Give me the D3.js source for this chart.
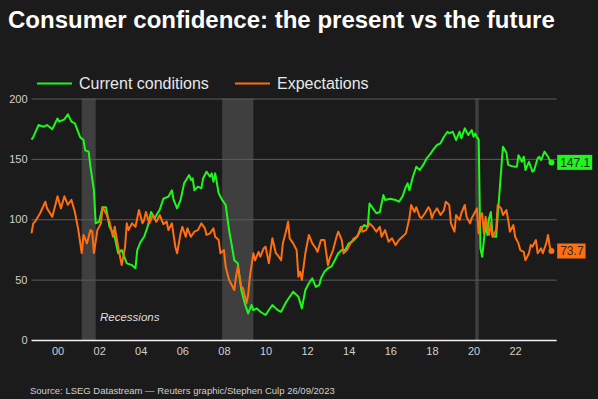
<!DOCTYPE html>
<html lang="en">
<head>
<meta charset="utf-8">
<title>Consumer confidence: the present vs the future</title>
<script src="https://d3js.org/d3.v7.min.js"></script>
<style>
  html, body { margin: 0; padding: 0; background: #1b1b1b; }
  svg { display: block; font-family: "Liberation Sans", Arial, sans-serif; }
</style>
</head>
<body>
<script>
// monthly readings (sparse)
const currentMonths = [
  "1998-09","1998-10","1999-01","1999-04","1999-06","1999-09","1999-12","2000-01","2000-04","2000-06",
  "2000-08","2000-10","2001-01","2001-03","2001-04","2001-06","2001-07","2001-09","2001-10","2001-12",
  "2002-02","2002-04","2002-06","2002-09","2002-11","2003-01","2003-04","2003-07","2003-09","2003-10",
  "2003-12","2004-02","2004-04","2004-06","2004-08","2004-11","2005-01","2005-04","2005-06","2005-07",
  "2005-09","2005-11","2006-01","2006-04","2006-05","2006-06","2006-07","2006-09","2006-11","2006-12",
  "2007-02","2007-04","2007-05","2007-06","2007-07","2007-09","2007-11","2008-01","2008-03","2008-05",
  "2008-06","2008-08","2008-10","2008-12","2009-02","2009-04","2009-05","2009-07","2009-09","2009-12",
  "2010-02","2010-04","2010-06","2010-07","2010-09","2010-12","2011-04","2011-07","2011-09","2011-11",
  "2012-01","2012-03","2012-05","2012-07","2012-08","2012-10","2012-12","2013-02","2013-04","2013-06",
  "2013-08","2013-10","2013-12","2014-02","2014-04","2014-06","2014-08","2014-09","2014-11","2014-12",
  "2015-02","2015-04","2015-06","2015-08","2015-09","2015-12","2016-03","2016-05","2016-07","2016-09",
  "2016-10","2016-11","2017-01","2017-03","2017-05","2017-07","2017-09","2017-11","2018-01","2018-03",
  "2018-05","2018-07","2018-09","2018-10","2018-12","2019-02","2019-04","2019-05","2019-07","2019-09",
  "2019-11","2019-12","2020-01","2020-02","2020-03","2020-04","2020-05","2020-07","2020-08","2020-09",
  "2020-10","2020-11","2021-01","2021-05","2021-07","2021-08","2021-10","2021-12","2022-01","2022-02",
  "2022-04","2022-05","2022-06","2022-08","2022-10","2022-11","2023-01","2023-02","2023-03","2023-05",
  "2023-07","2023-08","2023-09"
];
const currentValues = [
  166, 168, 178, 176.6, 178, 174.5, 183.5, 180.8, 182.7, 187,
  180.8, 179.4, 168, 165.6, 157, 156, 143.5, 124, 96.6, 98,
  110, 110, 94, 85.5, 71.8, 74.5, 63.5, 62, 59.4, 74.5,
  81.4, 85.5, 93.8, 106, 100.8, 108, 117, 118.7, 124, 116,
  109, 116, 129.7, 136.6, 132.5, 133.9, 124, 127, 125.6, 133.9,
  139.4, 135.2, 138, 131, 138, 121.5, 116, 111.8, 91, 74.5,
  66, 63.5, 41.4, 30.4, 22, 29, 24.8, 26.2, 23.4, 20.7,
  24.8, 29, 26.2, 24.8, 23.4, 31.7, 40, 35.9, 26.2, 41.4,
  47, 51, 44, 45.5, 51, 56.6, 59.4, 60.7, 66, 71.8,
  74.5, 74.5, 80, 81.4, 84.2, 88.3, 93.8, 95.2, 93.8, 113,
  109, 105, 106, 120, 116, 117, 116, 114.5, 118.7, 127,
  129.7, 124, 135.2, 143.5, 140.8, 145, 150.5, 154, 158, 161.5,
  162.9, 168.3, 172.5, 171.1, 172.5, 165.6, 172.5, 167, 175.3, 169.7,
  173.9, 168.3, 171, 168, 166, 76, 69, 96, 87, 101,
  106, 86, 85.5, 160, 155, 145, 144, 143.5, 143.5, 153,
  147.6, 151.8, 140.8, 147.6, 139.4, 140.8, 150.5, 151.8, 149, 156,
  151.8, 148.5, 147.1
];

const expectMonths = [
  "1998-09","1998-10","1998-11","1999-02","1999-05","1999-06","1999-09","1999-11","1999-12","2000-02",
  "2000-04","2000-06","2000-08","2000-10","2000-12","2001-02","2001-03","2001-05","2001-07","2001-08",
  "2001-09","2001-11","2002-01","2002-02","2002-04","2002-06","2002-08","2002-09","2002-11","2003-01",
  "2003-03","2003-04","2003-05","2003-07","2003-09","2003-11","2004-01","2004-02","2004-03","2004-05",
  "2004-07","2004-09","2004-11","2005-01","2005-03","2005-04","2005-06","2005-08","2005-09","2005-11",
  "2005-12","2006-02","2006-03","2006-05","2006-07","2006-09","2006-11","2007-01","2007-02","2007-04",
  "2007-06","2007-07","2007-09","2007-10","2007-12","2008-01","2008-03","2008-04","2008-06","2008-07",
  "2008-08","2008-10","2008-11","2009-01","2009-02","2009-03","2009-05","2009-06","2009-08","2009-09",
  "2009-11","2009-12","2010-02","2010-03","2010-04","2010-06","2010-07","2010-09","2010-10","2010-12",
  "2011-01","2011-02","2011-04","2011-06","2011-07","2011-08","2011-09","2011-11","2012-01","2012-03",
  "2012-05","2012-06","2012-08","2012-10","2012-12","2013-01","2013-03","2013-05","2013-06","2013-08",
  "2013-09","2013-11","2014-01","2014-03","2014-05","2014-07","2014-08","2014-10","2014-12","2015-02",
  "2015-04","2015-06","2015-07","2015-09","2015-11","2016-01","2016-03","2016-05","2016-07","2016-09",
  "2016-11","2016-12","2017-02","2017-03","2017-05","2017-06","2017-08","2017-10","2017-11","2017-12",
  "2018-01","2018-03","2018-05","2018-07","2018-08","2018-10","2018-11","2019-01","2019-02","2019-04",
  "2019-05","2019-07","2019-08","2019-10","2019-11","2019-12","2020-02","2020-03","2020-04","2020-05",
  "2020-06","2020-07","2020-09","2020-10","2020-11","2021-01","2021-02","2021-04","2021-05","2021-07",
  "2021-08","2021-09","2021-11","2021-12","2022-02","2022-03","2022-05","2022-06","2022-08","2022-09",
  "2022-10","2022-12","2023-01","2023-03","2023-04","2023-06","2023-07","2023-08","2023-09"
];
const expectValues = [
  88.3, 96.6, 98, 105, 114.5, 109, 102, 113, 119, 109,
  119, 112, 116, 106, 91, 72, 87, 80, 91, 90,
  72, 91, 96.6, 110, 105, 98, 85.5, 93.8, 77, 62,
  77, 96.6, 91, 96.6, 93.8, 107.6, 96.6, 99.4, 106, 96.6,
  103.5, 98, 103.5, 96, 98, 91, 96.6, 77, 71.8, 88.3,
  93.8, 85.5, 92.5, 85.5, 89.7, 91, 96.6, 92.5, 87, 88.3,
  92.5, 85.5, 82.8, 71.8, 74.5, 60.7, 49.7, 47, 41.4, 52.4,
  60.7, 44, 42.8, 30.4, 37.3, 52.4, 71.8, 66, 73, 69,
  76, 77.3, 63.5, 74.5, 84.2, 71.8, 70.4, 66, 80, 91,
  98, 84.2, 80, 74.5, 52.4, 56.6, 49.7, 71.8, 87, 80,
  76, 73, 82.8, 82.8, 62, 67.6, 74.5, 85.5, 89.7, 82.8,
  71.8, 74.5, 80, 84.2, 85.5, 93.8, 89.7, 91, 96.6, 93.8,
  89.7, 93.8, 85.5, 91, 81.4, 84.2, 78.6, 82.8, 85.5, 88.3,
  100.8, 111.8, 106, 110, 102, 100.8, 105, 110, 107.6, 100.8,
  105, 109, 103.5, 107.6, 114.5, 111.8, 96.6, 89.7, 103.5, 99.4,
  105, 111.8, 102, 96.6, 100.8, 103.5, 109, 88.3, 102, 105,
  88.3, 102, 87, 96.6, 85.5, 91, 111.8, 109, 103.5, 107.6,
  99.4, 89.7, 95.2, 85.5, 80, 74.5, 73, 66, 71.8, 78.6,
  77.3, 82.8, 71.8, 76, 71.8, 80, 87, 77.3, 73.7
];

// NBER recessions (first and last month)
const recessionStarts = ["2001-03", "2007-12", "2020-02"];
const recessionEnds = ["2001-11", "2009-06", "2020-04"];

const yTicks = [0, 50, 100, 150, 200];
const xTickYears = [2000, 2002, 2004, 2006, 2008, 2010, 2012, 2014, 2016, 2018, 2020, 2022];

const seriesNames = ["Current conditions", "Expectations"];
const seriesColors = ["#1ef71a", "#ff6f10"];

const width = 598, height = 399;
const parseMonth = d3.timeParse("%Y-%m");

const svg = d3.select("body").append("svg")
    .attr("width", width)
    .attr("height", height);

svg.append("rect")
    .attr("width", width).attr("height", height)
    .attr("fill", "#1b1b1b");

const x = d3.scaleTime()
    .domain([new Date(1998, 9, 1), new Date(2024, 0, 1)])
    .range([31.5, 556.7]);

const y = d3.scaleLinear()
    .domain([0, 200])
    .range([340, 98.5]);

// title
svg.append("text")
    .attr("x", 8).attr("y", 28)
    .attr("fill", "#ffffff")
    .attr("font-size", 24)
    .attr("font-weight", "bold")
    .text("Consumer confidence: the present vs the future");

// legend
const legend = svg.append("g");
const legendX = [37, 235];
seriesNames.forEach((name, i) => {
  legend.append("line")
      .attr("x1", legendX[i]).attr("x2", legendX[i] + 35)
      .attr("y1", 83.5).attr("y2", 83.5)
      .attr("stroke", seriesColors[i])
      .attr("stroke-width", 2);
  legend.append("text")
      .attr("x", legendX[i] + 42).attr("y", 89)
      .attr("fill", "#e8e8e8")
      .attr("font-size", 16)
      .text(name);
});

// recession bands
const bands = recessionStarts.map((s, i) => ({
  start: parseMonth(s),
  end: parseMonth(recessionEnds[i])
}));

svg.append("g").selectAll("rect")
  .data(bands)
  .join("rect")
    .attr("x", d => x(d.start))
    .attr("width", d => x(d.end) - x(d.start))
    .attr("y", y(200))
    .attr("height", y(0) - y(200))
    .attr("fill", "#ffffff")
    .attr("fill-opacity", 0.16);

svg.append("text")
    .attr("x", 100).attr("y", 321)
    .attr("fill", "#dedede")
    .attr("font-size", 11.5)
    .attr("font-style", "italic")
    .text("Recessions");

// gridlines and y labels
const yAxis = svg.append("g")
    .attr("transform", `translate(${x.range()[0]},0)`)
    .call(d3.axisLeft(y)
      .tickValues(yTicks)
      .tickSize(-(x.range()[1] - x.range()[0]))
      .tickPadding(4));
yAxis.select(".domain").remove();
yAxis.selectAll(".tick line")
    .attr("stroke", d => d === 0 ? "#f2f2f2" : "#5c5c5c")
    .attr("stroke-width", d => d === 0 ? 1.6 : 1);
yAxis.selectAll(".tick text")
    .attr("fill", "#d0d0d0")
    .attr("font-size", 11)
    .attr("font-family", "Liberation Sans, Arial, sans-serif");

// x labels
const xAxis = svg.append("g")
    .attr("transform", `translate(0,${y(0)})`)
    .call(d3.axisBottom(x)
      .tickValues(xTickYears.map(yr => new Date(yr, 0, 1)))
      .tickFormat(d3.timeFormat("%y"))
      .tickSize(0)
      .tickPadding(7));
xAxis.select(".domain").remove();
xAxis.selectAll(".tick text")
    .attr("fill", "#d0d0d0")
    .attr("font-size", 11)
    .attr("font-family", "Liberation Sans, Arial, sans-serif");

// series: each monthly value sits at the end of its month
const series = [
  currentMonths.map((m, i) => ({ date: d3.timeMonth.offset(parseMonth(m), 1), value: currentValues[i] })),
  expectMonths.map((m, i) => ({ date: d3.timeMonth.offset(parseMonth(m), 1), value: expectValues[i] }))
];

const line = d3.line()
    .x(d => x(d.date))
    .y(d => y(d.value));

series.forEach((data, i) => {
  svg.append("path")
      .datum(data)
      .attr("fill", "none")
      .attr("stroke", seriesColors[i])
      .attr("stroke-width", 2)
      .attr("stroke-linejoin", "round")
      .attr("d", line);

  const last = data[data.length - 1];
  svg.append("circle")
      .attr("cx", x(last.date)).attr("cy", y(last.value))
      .attr("r", 3)
      .attr("fill", seriesColors[i]);

  // value tag at the right edge
  const tag = svg.append("g")
      .attr("transform", `translate(${x.range()[1] + 0.5},${y(last.value)})`);
  const label = tag.append("text")
      .attr("x", 3).attr("y", 4.2)
      .attr("fill", "#2a2a2a")
      .attr("font-size", 12)
      .text(d3.format(".1f")(last.value));
  const w = label.node().getComputedTextLength();
  tag.insert("rect", "text")
      .attr("x", 0).attr("y", -7.5)
      .attr("width", w + 5).attr("height", 15)
      .attr("fill", seriesColors[i]);
});

// source
svg.append("text")
    .attr("x", 30).attr("y", 394)
    .attr("fill", "#d0d0d0")
    .attr("font-size", 9.5)
    .text("Source: LSEG Datastream \u2014 Reuters graphic/Stephen Culp 26/09/2023");
</script>
</body>
</html>
